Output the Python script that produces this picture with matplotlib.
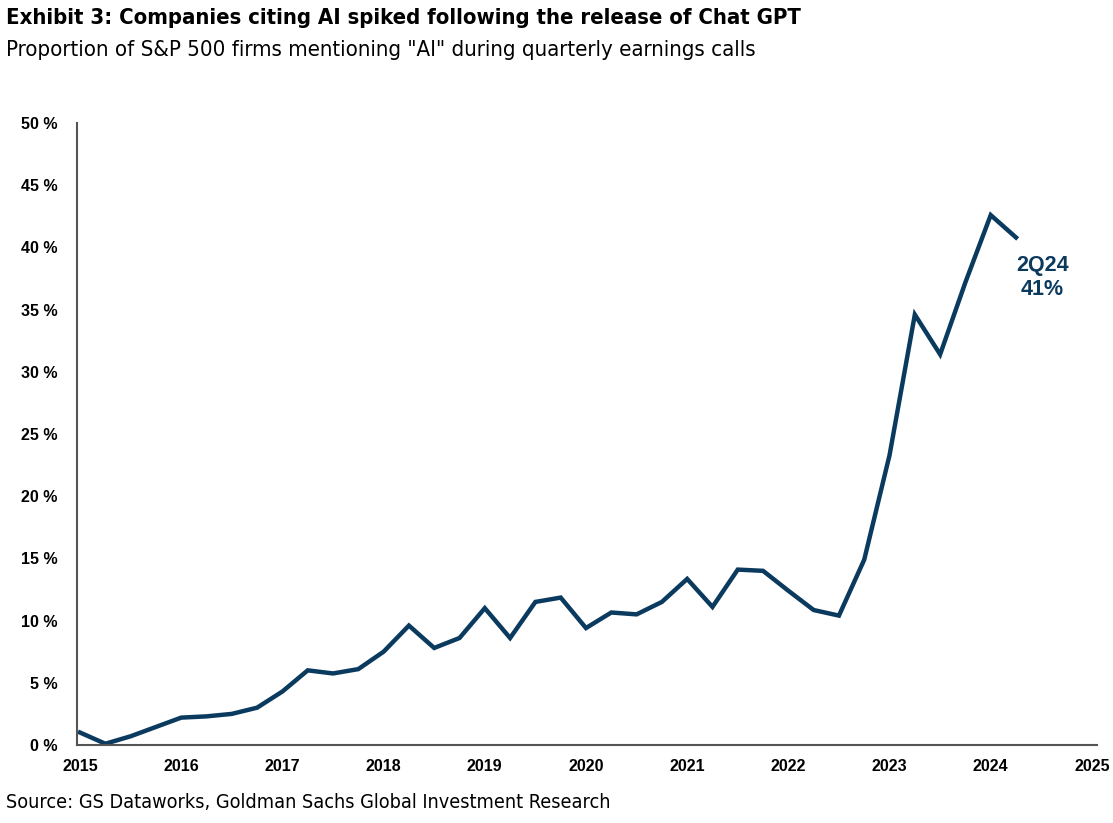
import matplotlib.pyplot as plt
import numpy as np

# quarterly share of S&P 500 firms mentioning "AI", 1Q15 .. 2Q24
quarters = np.arange(2015, 2024.26, 0.25)
ai_share = [1.0, 0.1, 0.7, 1.45, 2.2, 2.3, 2.5, 3.0,
            4.3, 6.0, 5.75, 6.1, 7.5, 9.6, 7.8, 8.6,
            11.0, 8.6, 11.5, 11.85, 9.4, 10.65, 10.5, 11.5,
            13.35, 11.1, 14.1, 14.0, 12.4, 10.85, 10.4, 14.9,
            23.3, 34.6, 31.4, 37.2, 42.6, 40.8]
year_ticks = list(range(2015, 2026))
pct_ticks = list(range(0, 51, 5))

navy = '#0b3a5f'

fig = plt.figure(figsize=(11.13, 8.23), dpi=100)
ax = fig.add_axes([0.0692, 0.0948, 0.9164, 0.7557])

ax.plot(quarters, ai_share, color=navy, lw=3.2, solid_joinstyle='miter')

ax.set_xlim(2014.97, 2025.05)
ax.set_ylim(0, 50)
ax.set_xticks(year_ticks)
ax.set_xticklabels([str(y) for y in year_ticks])
ax.set_yticks(pct_ticks)
ax.set_yticklabels([f'{p} %' for p in pct_ticks])
ax.tick_params(length=0, labelsize=11.5)
ax.tick_params(axis='y', pad=14)
ax.tick_params(axis='x', pad=10)
for lab in ax.get_xticklabels() + ax.get_yticklabels():
    lab.set_fontweight('bold')
    lab.set_fontfamily('Liberation Sans')

for s in ['top', 'right']:
    ax.spines[s].set_visible(False)
for s in ['left', 'bottom']:
    ax.spines[s].set_color('#555555')
    ax.spines[s].set_linewidth(1.5)

# end label
ax.annotate(f'2Q24\n{round(ai_share[-1])}%', xy=(quarters[-1], ai_share[-1]),
            xytext=(2024.51, 37.6), ha='center', va='center', color=navy,
            fontsize=15.5, fontweight='bold', family='Liberation Sans', linespacing=1.2)

# headings in condensed DejaVu
fig.text(0.005, 0.978, 'Exhibit 3: Companies citing AI spiked following the release of Chat GPT',
         fontsize=15.8, fontweight='bold', family='DejaVu Sans', fontstretch='condensed', va='center')
fig.text(0.005, 0.939, 'Proportion of S&P 500 firms mentioning "AI" during quarterly earnings calls',
         fontsize=15.9, family='DejaVu Sans', fontstretch='condensed', va='center')
fig.text(0.005, 0.013, 'Source: GS Dataworks, Goldman Sachs Global Investment Research',
         fontsize=14.2, family='DejaVu Sans', fontstretch='condensed', va='bottom')

fig.savefig('out.png', dpi=100)
